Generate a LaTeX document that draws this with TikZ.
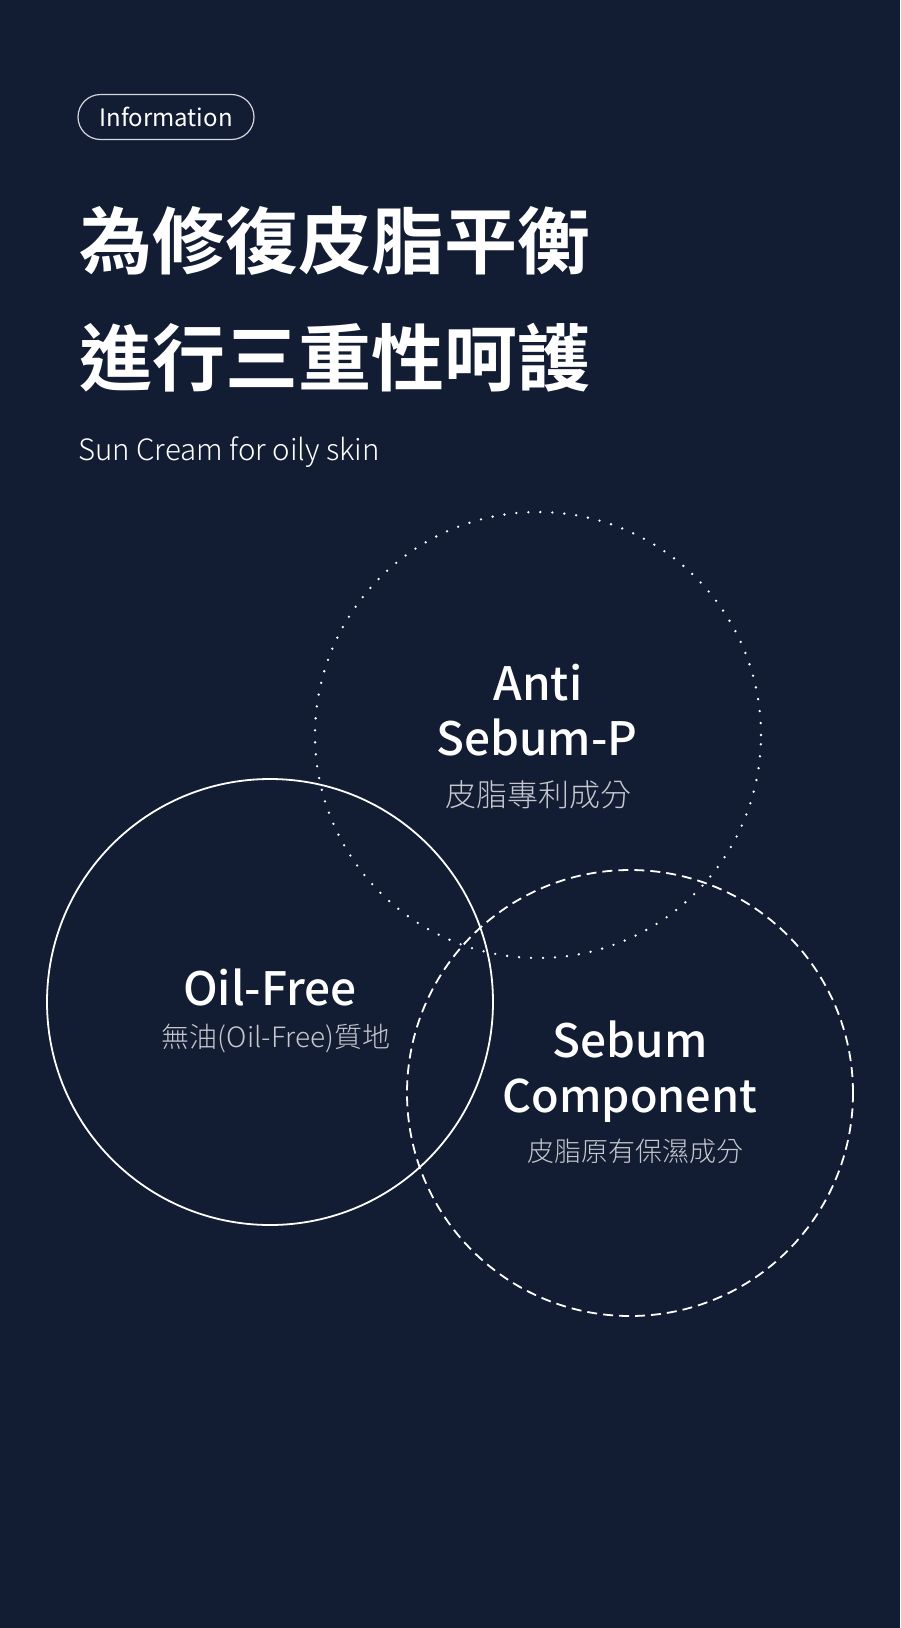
\documentclass[tikz,border=0pt]{standalone}
\usepackage{fontspec}
\setmainfont{Noto Sans CJK TC}
\newfontfamily\cjkbold{Noto Sans CJK TC Bold}
\newfontfamily\cjkmed{Noto Sans CJK TC Medium}
\newfontfamily\cjklight{Noto Sans CJK TC Light}
\definecolor{bgnavy}{HTML}{121D33}
\definecolor{capgray}{HTML}{C6C8CE}
\definecolor{pillgray}{HTML}{D4D6DB}
\begin{document}
\begin{tikzpicture}[x=1pt,y=-1pt,
  ring/.style={circle, draw=white, line width=1.8pt, minimum size=446pt, inner sep=0pt},
  headtxt/.style={text=white, font=\cjkmed\fontsize{46}{55}\selectfont, inner sep=0pt, anchor=base},
  subtxt/.style={text=capgray, font=\cjklight\fontsize{28}{34}\selectfont, inner sep=0pt, anchor=base},
  titletxt/.style={text=white, font=\cjkbold\fontsize{73}{80}\selectfont, inner sep=0pt, anchor=west}]
\fill[bgnavy] (0,0) rectangle (900,1628);

\node[draw=pillgray, line width=1.2pt, rounded corners=22.5pt, minimum width=176pt, minimum height=45pt,
  text=white, font=\fontsize{24}{28}\selectfont, inner sep=0pt] (info) at (166,117) {Information};

\node[titletxt] (title1) at (79,241) {為修復皮脂平衡};
\node[titletxt] (title2) at (79,358) {進行三重性呵護};
\node[text=white, font=\cjklight\fontsize{29.4}{36}\selectfont, inner sep=0pt, anchor=base west] (sub) at (78,460) {Sun Cream for oily skin};

\node[ring, dash pattern=on 0pt off 12pt, line cap=round, line width=2.6pt] (antiring) at (538,735) {};
\node[ring] (oilring) at (270,1002) {};
\node[ring, dash pattern=on 10pt off 6pt] (sebumring) at (630,1093) {};

\node[headtxt] (anti1) at (538,700) {Anti};
\node[headtxt] (anti2) at (537,755) {Sebum-P};
\node[subtxt, font=\cjklight\fontsize{31}{36}\selectfont] (antisub) at (538,806) {皮脂專利成分};

\node[headtxt] (oil1) at (270,1005) {Oil-Free};
\node[subtxt] (oilsub) at (276,1047) {無油(Oil-Free)質地};

\node[headtxt] (sebum1) at (630,1057) {Sebum};
\node[headtxt, font=\cjkmed\fontsize{45}{55}\selectfont] (sebum2) at (630,1112) {Component};
\node[subtxt, font=\cjklight\fontsize{27}{34}\selectfont] (sebumsub) at (635,1161) {皮脂原有保濕成分};
\end{tikzpicture}
\end{document}
